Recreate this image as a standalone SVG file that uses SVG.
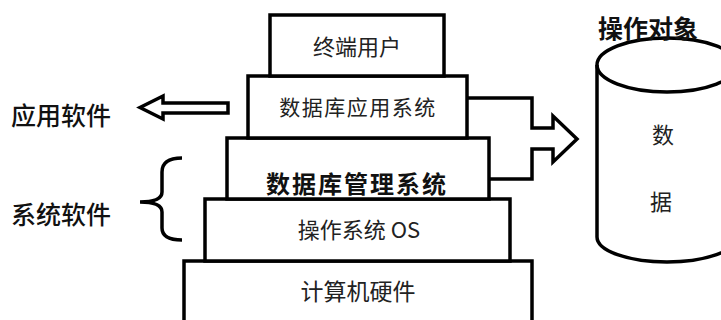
<svg xmlns="http://www.w3.org/2000/svg" width="721" height="320" viewBox="0 0 721 320">
<style>
.box{fill:#fff;stroke:#000;stroke-width:3.5}
.ln{fill:none;stroke:#000;stroke-width:3.5;stroke-linejoin:miter}
.t{font-family:"Noto Sans CJK SC","Noto Sans",sans-serif;font-size:21px;fill:#222;text-anchor:middle;dominant-baseline:central}
.lbl{font-family:"Noto Sans CJK SC","Noto Sans",sans-serif;font-size:25px;font-weight:500;fill:#111;dominant-baseline:central}
</style>
<rect width="721" height="320" fill="#fff"/>
<g id="hardware"><rect class="box" x="184" y="261" width="348" height="70"/><text class="t" x="358" y="290" style="font-size:23px">计算机硬件</text></g>
<g id="os"><rect class="box" x="205" y="199" width="305" height="62"/><text class="t" x="359" y="228" style="font-size:22px">操作系统 OS</text></g>
<g id="dbms"><rect class="box" x="227" y="138" width="262" height="61"/><text class="t" x="357" y="182" style="font-size:24px;font-weight:bold;fill:#111;letter-spacing:2px">数据库管理系统</text></g>
<g id="dbapp"><rect class="box" x="248" y="76" width="219" height="62"/><text class="t" x="358" y="106" style="letter-spacing:1.5px">数据库应用系统</text></g>
<g id="enduser"><rect class="box" x="270" y="15" width="174" height="61"/><text class="t" x="357" y="45" style="font-size:22px">终端用户</text></g>
<g id="data">
<path class="ln" d="M597,65 L597,237 A70,25 0 0 0 737,237 L737,65"/>
<ellipse class="ln" cx="667" cy="65" rx="70" ry="27"/>
<text class="t" x="663" y="133" style="font-size:22px">数</text>
<text class="t" x="661" y="200" style="font-size:22px">据</text>
</g>
<g id="labels">
<text class="lbl" x="598" y="27" style="font-weight:bold">操作对象</text>
<text class="lbl" x="11" y="114">应用软件</text>
<text class="lbl" x="11" y="213">系统软件</text>
</g>
<g id="connectors">
<polyline class="ln" points="467,98 532,98 532,128 553,128 553,116 577,139 553,162 553,149 532,149 532,179 489,179"/>
<polygon class="ln" points="228,103 163,103 163,96 140,107.5 163,119 163,113 228,113"/>
<path class="ln" d="M182,158 Q162,158 162,172 L162,192 Q162,202 140,202 Q162,202 162,212 L162,228 Q162,240 182,240"/>
</g>
</svg>
